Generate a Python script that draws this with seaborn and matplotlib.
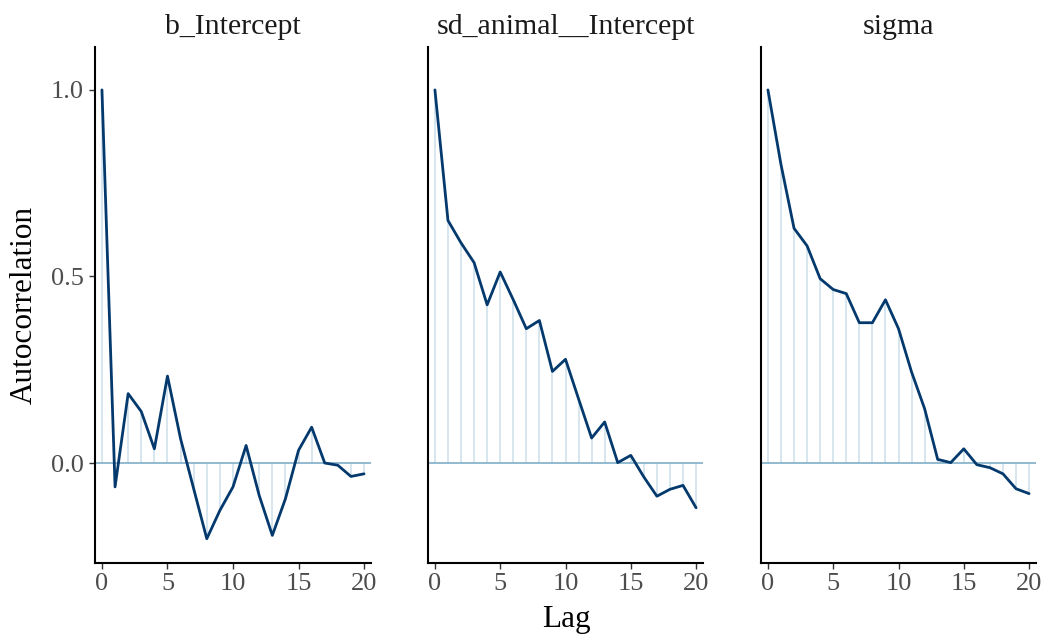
import numpy as np
import pandas as pd
import matplotlib
matplotlib.use("Agg")
import matplotlib.pyplot as plt
import seaborn as sns

# Autocorrelation by lag for each parameter
lags = list(range(21))
params = ["b_Intercept", "sd_animal__Intercept", "sigma"]
acf_b_intercept = [1.0, -0.064, 0.186, 0.138, 0.038, 0.233, 0.065, -0.069, -0.203, -0.127,
                   -0.064, 0.047, -0.087, -0.194, -0.096, 0.034, 0.096, 0.0, -0.006, -0.036, -0.029]
acf_sd_animal = [1.0, 0.65, 0.59, 0.537, 0.424, 0.512, 0.4375, 0.36, 0.382, 0.2455,
                 0.278, 0.172, 0.067, 0.11, 0.001, 0.0205, -0.0375, -0.089, -0.0705, -0.06, -0.12]
acf_sigma = [1.0, 0.80, 0.629, 0.582, 0.494, 0.465, 0.454, 0.376, 0.376, 0.4375,
             0.36, 0.244, 0.1455, 0.0098, 0.001, 0.038, -0.0045, -0.0125, -0.029, -0.069, -0.082]

df = pd.DataFrame({
    "Lag": lags * 3,
    "AC": acf_b_intercept + acf_sd_animal + acf_sigma,
    "Parameter": [p for p in params for _ in lags],
})

sns.set_theme(style="white")
plt.rcParams["font.family"] = ["Liberation Serif", "DejaVu Serif"]

LINE = "#03396c"
BAR = "#d1e1ec"
ZERO = "#8ab4cc"

fig = plt.figure(figsize=(10.44, 6.36), dpi=100)
W, H = 1044, 636
bottom_px, top_px = 563, 47
panels_px = [(95, 371), (428, 703), (761, 1036)]

axes = []
for i, (param, (l, r)) in enumerate(zip(params, panels_px)):
    ax = fig.add_axes([l / W, (H - bottom_px) / H, (r - l) / W, (bottom_px - top_px) / H])
    sub = df[df["Parameter"] == param]
    ax.vlines(sub["Lag"], 0, sub["AC"], color=BAR, lw=1.2, zorder=1)
    ax.axhline(0, color=ZERO, lw=1.3, zorder=2)
    sns.lineplot(data=sub, x="Lag", y="AC", ax=ax, color=LINE, lw=2.0, zorder=3)
    ax.set_xlim(-0.53, 20.53)
    ax.set_ylim(-0.268, 1.115)
    ax.set_xticks([0, 5, 10, 15, 20])
    ax.set_xlabel("")
    ax.set_ylabel("")
    ax.set_title(param, fontsize=21.5, color="#1a1a1a", pad=9)
    for s in ["top", "right"]:
        ax.spines[s].set_visible(False)
    for s in ["left", "bottom"]:
        ax.spines[s].set_color("black")
        ax.spines[s].set_linewidth(1.5)
    ax.tick_params(axis="x", length=4, width=1.0, color="#333333",
                   labelsize=19, labelcolor="#4d4d4d", pad=3, bottom=True)
    if i == 0:
        ax.set_yticks([0.0, 0.5, 1.0])
        ax.set_yticklabels(["0.0", "0.5", "1.0"])
        ax.tick_params(axis="y", length=4, width=1.0, color="#333333",
                       labelsize=19, labelcolor="#4d4d4d", pad=4, left=True)
    else:
        ax.set_yticks([])
    axes.append(ax)

fig.text(566 / W, (H - 619) / H, "Lag", ha="center", va="center", fontsize=22.5, color="black")
fig.text(24 / W, (H - 305) / H, "Autocorrelation", ha="center", va="center",
         rotation=90, fontsize=22.5, color="black")

fig.savefig("out.png", dpi=100, facecolor="white")
